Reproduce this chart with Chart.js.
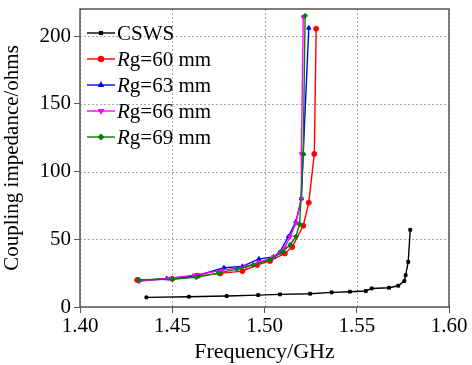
<!DOCTYPE html>
<html>
<head>
<meta charset="utf-8">
<script src="https://cdn.jsdelivr.net/npm/chart.js@4/dist/chart.umd.min.js"></script>
<style>
  html, body { margin: 0; padding: 0; background: #fff }
  #wrap { width: 472px; height: 365px; position: relative }
</style>
</head>
<body>
<div id="wrap"><canvas id="chart" width="472" height="365"></canvas></div>
<script>
// values (frequency in GHz, impedance in ohms)
const cswsFreq = [1.436, 1.459, 1.4795, 1.4966, 1.5084, 1.5247, 1.5364, 1.5463, 1.5549, 1.5581, 1.5675, 1.5725, 1.5758, 1.5765, 1.5779, 1.5790]
const cswsZ    = [7.1, 7.6, 8.1, 8.8, 9.3, 9.8, 10.8, 11.3, 11.8, 13.7, 14.2, 15.7, 19.1, 23.5, 33.3, 57.0]

const rg60Freq = [1.431, 1.450, 1.464, 1.476, 1.488, 1.496, 1.503, 1.511, 1.515, 1.521, 1.524, 1.527, 1.528]
const rg60Z    = [19.9, 20.8, 23.0, 24.8, 26.5, 31.0, 34.0, 39.5, 44.3, 60.0, 77.0, 113.0, 205.5]

const rg63Freq = [1.432, 1.447, 1.463, 1.478, 1.488, 1.497, 1.505, 1.508, 1.513, 1.517, 1.520, 1.521, 1.524]
const rg63Z    = [19.5, 21.0, 23.0, 29.0, 30.0, 35.5, 37.0, 40.0, 52.0, 63.0, 80.0, 113.0, 206.0]

const rg66Freq = [1.432, 1.448, 1.462, 1.477, 1.490, 1.497, 1.505, 1.511, 1.514, 1.517, 1.520, 1.520, 1.521]
const rg66Z    = [19.0, 21.0, 23.5, 27.0, 30.0, 33.0, 37.0, 44.0, 52.0, 62.0, 80.0, 113.0, 214.0]

const rg69Freq = [1.432, 1.450, 1.463, 1.475, 1.485, 1.494, 1.503, 1.510, 1.514, 1.517, 1.519, 1.521, 1.522]
const rg69Z    = [20.0, 20.5, 22.0, 25.0, 28.0, 31.0, 35.0, 41.0, 46.0, 52.0, 61.0, 113.0, 215.0]

const xTicks = [1.40, 1.45, 1.50, 1.55, 1.60]
const yTicks = [0, 50, 100, 150, 200]

const seriesLabels = ['CSWS', '60 mm', '63 mm', '66 mm', '69 mm']
const seriesColors = ['#000000', '#ff0000', '#0000ff', '#ff00ff', '#008000']
const seriesMarkers = ['rect', 'circle', 'triangle', 'triangle', 'rectRot']

const FONT = '"Liberation Serif", "Times New Roman", serif'

function toPoints(xs, ys) {
  return xs.map((x, i) => ({ x: x, y: ys[i] }))
}

function markerSize(i) {
  return i === 0 ? 2 : 2.5
}

function makeSet(i, xs, ys) {
  return {
    label: seriesLabels[i],
    data: toPoints(xs, ys),
    showLine: true,
    borderColor: seriesColors[i],
    backgroundColor: seriesColors[i],
    borderWidth: 1.4,
    pointStyle: seriesMarkers[i],
    pointRotation: i === 3 ? 180 : 0,
    pointRadius: markerSize(i),
    pointBorderWidth: 1,
    order: 4 - i
  }
}

// dotted grid at the tick values, drawn under the data
const gridPlugin = {
  id: 'dotgrid',
  beforeDatasetsDraw(chart) {
    const ctx = chart.ctx
    const a = chart.chartArea
    const xs = chart.scales.x
    const ys = chart.scales.y
    ctx.save()
    ctx.strokeStyle = '#a8a8a8'
    ctx.lineWidth = 1
    ctx.setLineDash([2, 2])
    xTicks.forEach(v => {
      const px = Math.round(xs.getPixelForValue(v)) + 0.5
      ctx.beginPath()
      ctx.moveTo(px, a.top)
      ctx.lineTo(px, a.bottom)
      ctx.stroke()
    })
    yTicks.forEach(v => {
      const py = Math.round(ys.getPixelForValue(v)) + 0.5
      ctx.beginPath()
      ctx.moveTo(a.left, py)
      ctx.lineTo(a.right, py)
      ctx.stroke()
    })
    ctx.restore()
  }
}

// frame on all four sides plus the hand-made legend (italic R in Rg)
const framePlugin = {
  id: 'frame',
  afterDraw(chart) {
    const ctx = chart.ctx
    const a = chart.chartArea
    ctx.save()
    ctx.strokeStyle = '#555'
    ctx.lineWidth = 1.5
    ctx.strokeRect(a.left, a.top, a.right - a.left, a.bottom - a.top)

    let y = a.top + 24
    const x0 = a.left + 7
    for (let i = 0; i < seriesLabels.length; i++) {
      ctx.strokeStyle = seriesColors[i]
      ctx.fillStyle = seriesColors[i]
      ctx.lineWidth = 1.4
      ctx.beginPath()
      ctx.moveTo(x0, y)
      ctx.lineTo(x0 + 28, y)
      ctx.stroke()
      Chart.helpers.drawPoint(ctx, {
        pointStyle: seriesMarkers[i],
        radius: markerSize(i),
        rotation: i === 3 ? 180 : 0,
        borderWidth: 1
      }, x0 + 14, y)
      ctx.fill()

      ctx.fillStyle = '#000'
      ctx.textBaseline = 'middle'
      ctx.textAlign = 'left'
      let tx = x0 + 30
      if (i === 0) {
        ctx.font = '21px ' + FONT
        ctx.fillText(seriesLabels[i], tx, y + 1)
      } else {
        ctx.font = 'italic 21px ' + FONT
        ctx.fillText('R', tx, y + 1)
        tx += ctx.measureText('R').width
        ctx.font = '21px ' + FONT
        ctx.fillText('g=' + seriesLabels[i], tx, y + 1)
      }
      y += 26
    }
    ctx.restore()
  }
}

new Chart(document.getElementById('chart'), {
  type: 'scatter',
  data: {
    datasets: [
      makeSet(0, cswsFreq, cswsZ),
      makeSet(1, rg60Freq, rg60Z),
      makeSet(2, rg63Freq, rg63Z),
      makeSet(3, rg66Freq, rg66Z),
      makeSet(4, rg69Freq, rg69Z)
    ]
  },
  options: {
    responsive: false,
    animation: false,
    layout: { padding: { top: 9, right: 23, left: 0, bottom: 0 } },
    plugins: { legend: { display: false }, tooltip: { enabled: false } },
    scales: {
      x: {
        type: 'linear',
        min: 1.40,
        max: 1.60,
        afterBuildTicks(scale) { scale.ticks = xTicks.map(v => ({ value: v })) },
        afterFit(scale) {
          scale.height = 58
          scale.paddingLeft = 0
          scale.paddingRight = 0
        },
        ticks: {
          color: '#000',
          font: { family: FONT, size: 21 },
          padding: 1,
          callback: v => Number(v).toFixed(2)
        },
        grid: {
          drawOnChartArea: false,
          tickColor: '#555',
          tickLength: 6
        },
        border: { display: false },
        title: {
          display: true,
          text: 'Frequency/GHz',
          color: '#000',
          font: { family: FONT, size: 22 },
          padding: { top: 0, bottom: 0 }
        }
      },
      y: {
        type: 'linear',
        min: 0,
        max: 220,
        afterBuildTicks(scale) { scale.ticks = yTicks.map(v => ({ value: v })) },
        afterFit(scale) {
          scale.width = 80
          scale.paddingTop = 0
          scale.paddingBottom = 0
        },
        ticks: {
          color: '#000',
          font: { family: FONT, size: 21 },
          padding: 3
        },
        grid: {
          drawOnChartArea: false,
          tickColor: '#555',
          tickLength: 6
        },
        border: { display: false },
        title: {
          display: true,
          text: 'Coupling impedance/ohms',
          color: '#000',
          font: { family: FONT, size: 21 },
          padding: { top: 0, bottom: 3 }
        }
      }
    }
  },
  plugins: [gridPlugin, framePlugin]
})
</script>
</body>
</html>
